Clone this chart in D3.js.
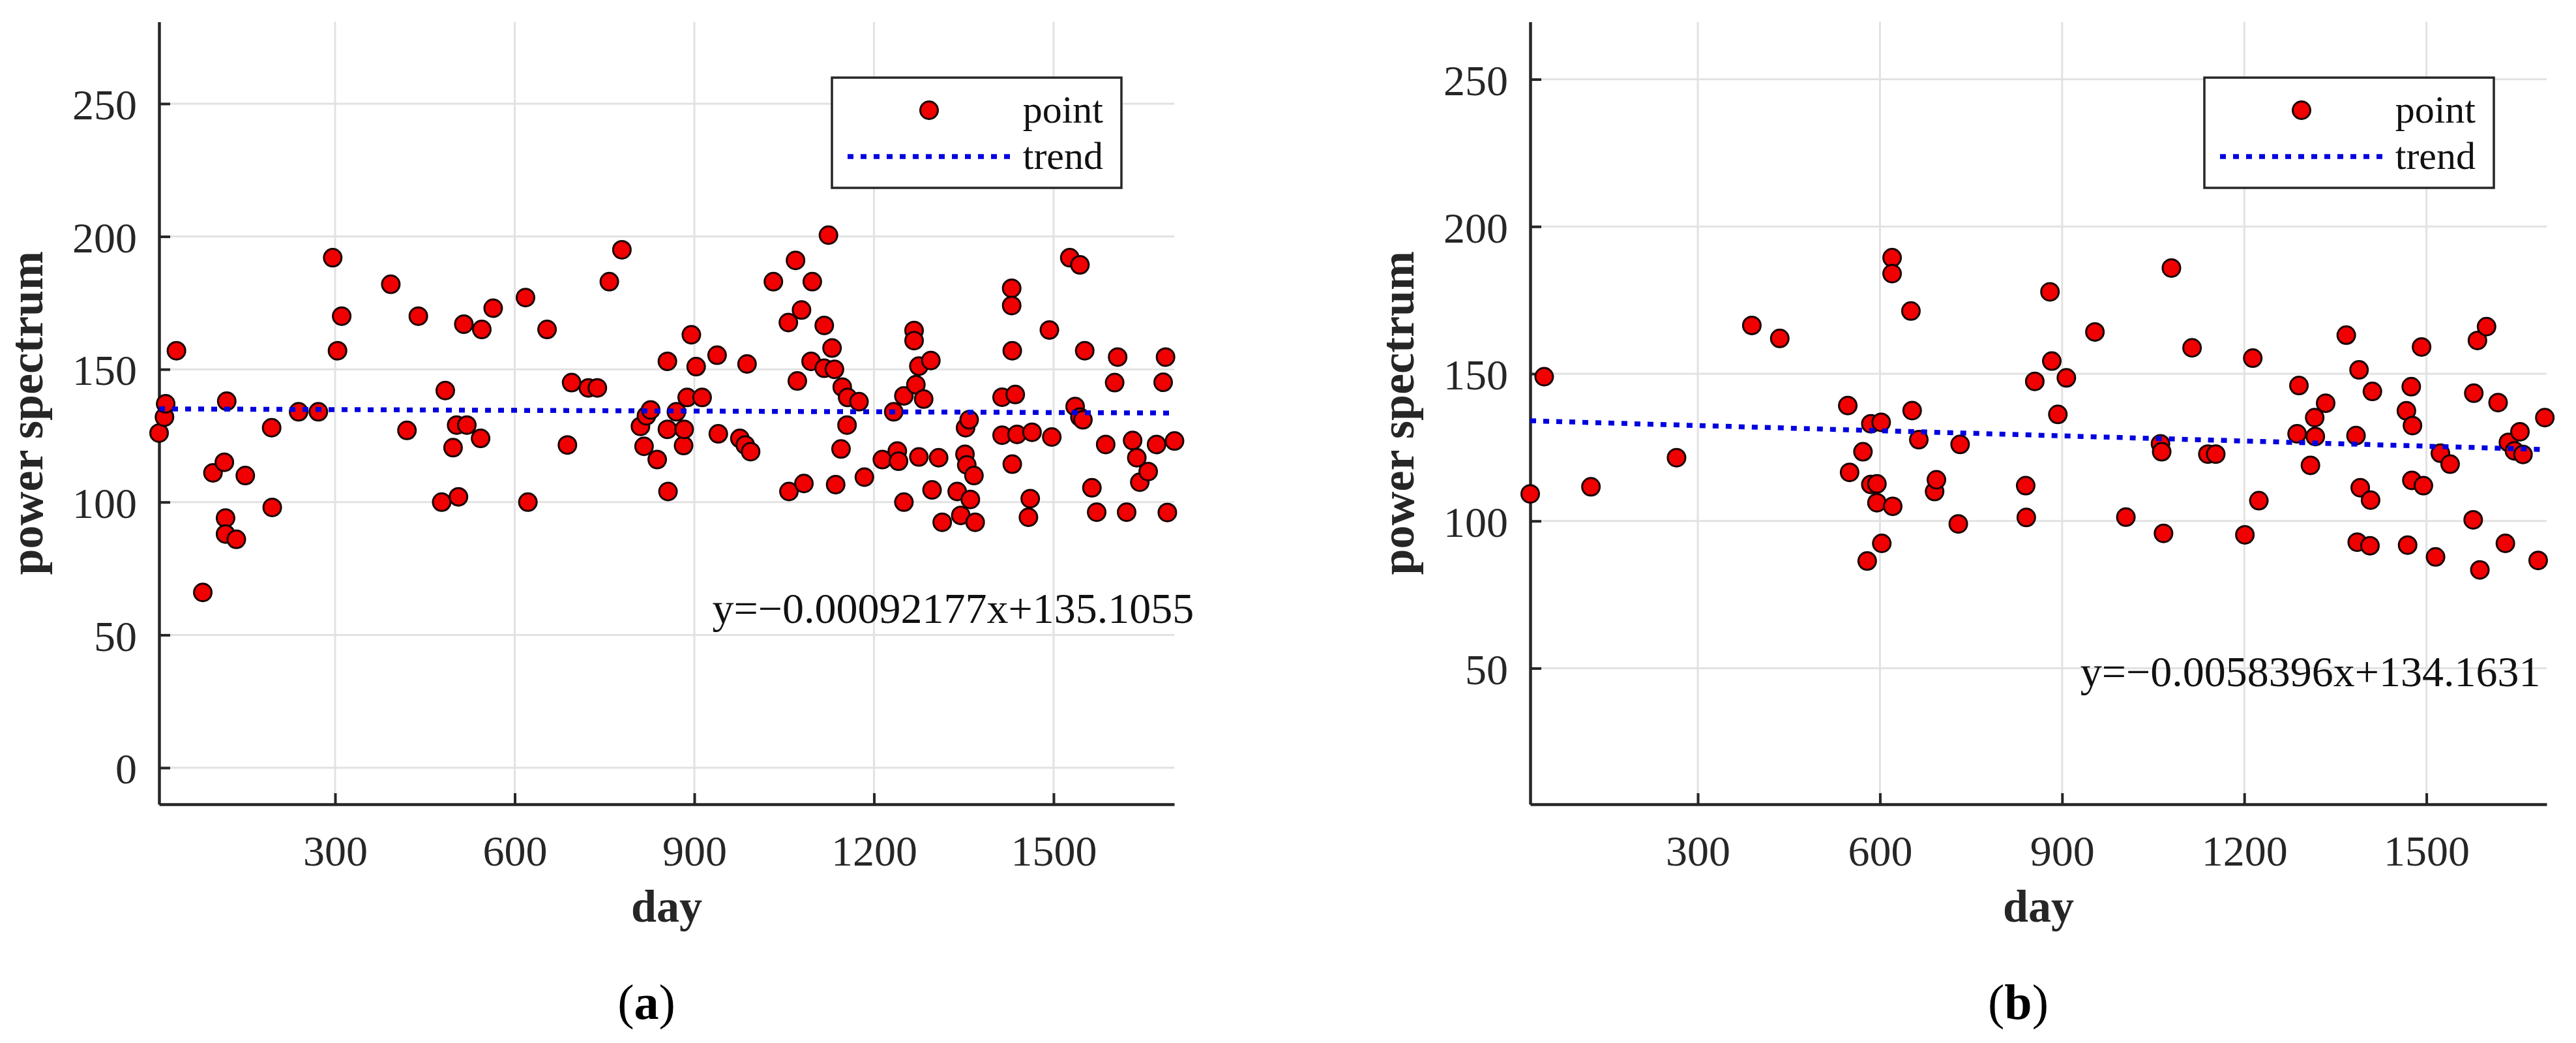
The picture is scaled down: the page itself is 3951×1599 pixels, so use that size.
<!doctype html>
<html lang="en">
<head>
<meta charset="utf-8">
<title>power spectrum vs day</title>
<script src="https://cdnjs.cloudflare.com/ajax/libs/d3/7.8.5/d3.min.js"></script>
<style>
	body { margin: 0; background: #fff; }
	svg { display: block; }
	text { font-family: "Liberation Serif", "Times New Roman", serif; }
	.grid line { stroke: #e2e2e2; stroke-width: 3; }
	.axis path.domain { stroke: #262626; stroke-width: 4.5; }
	.axis .tick line { stroke: #262626; stroke-width: 4; }
	.axis .tick text { font-size: 66px; fill: #262626; }
</style>
</head>
<body>
<div id="viz"></div>
<script>

// DATA
// panel (a)
var dayA = [6,15,17,35,79,96,115,117,117,119,135,150,194,195,239,272,296,304,311,393,
	420,439,478,484,497,503,506,515,520,543,545,564,618,622,654,688,695,723,738,758,
	779,810,816,820,827,838,855,855,856,870,882,883,888,895,903,913,938,940,976,985,
	994,988,1032,1057,1058,1069,1072,1079,1083,1095,1097,1117,1117,1124,1130,1134,1136,1145,1147,1155,
	1156,1175,1184,1214,1233,1239,1241,1250,1250,1267,1267,1270,1275,1275,1283,1295,1297,1308,1314,1339,
	1345,1352,1353,1355,1359,1361,1367,1369,1414,1414,1430,1430,1431,1431,1436,1439,1458,1461,1464,1493,
	1497,1527,1536,1544,1544,1549,1552,1564,1572,1587,1602,1607,1622,1632,1639,1644,1658,1672,1683,1687,
	1690,1702];
var powerA = [126,132,137,157,66,111,115,94,88,138,86,110,128,98,134,134,192,157,170,182,
	127,170,100,142,120.5,129,102,167,129,124,165,173,177,100,165,121.5,145,143,143,183,
	195,128.5,121,132.5,134.7,116,153,127.4,104,134,121.3,127.4,139.4,163,151,139.4,155.3,125.7,124,121.5,
	119,152,183,167.6,104,191,145.6,172.3,107,153,183,166.5,150.4,200.5,158,150,106.6,120,143.3,129,
	139.4,137.8,109.4,116,134,119.2,115.4,140,100,164.6,160.8,144.2,151.2,117,138.8,153.3,104.6,116.7,92.4,104,
	95,118,128,114,131,101,110,92.4,139.5,125.2,180.5,174,157,114.3,140.5,125.5,94.3,101.3,126.3,164.8,
	124.5,192,136,189.3,132,131,157,105.4,96.2,121.7,145,154.6,96.2,123.2,116.7,107.5,111.5,121.7,145.1,154.6,
	96.1,123];

// panel (b)
var dayB = [24,47,124,265,389,435,547,550,572,579,585,585,595,595,602,603,620,620,621,651,
	653,664,690,693,729,732,840,841,855,880,883,893,907,954,1005,1062,1064,1067,1080,1114,
	1140,1153,1201,1214,1224,1287,1290,1309,1316,1317,1334,1368,1384,1386,1389,1391,1407,1408,1411,1467,
	1469,1475,1476,1477,1492,1495,1515,1523,1539,1577,1578,1584,1588,1599,1618,1630,1635,1645,1654,1659,
	1684,1695];
var powerB = [109.2,149,111.6,121.5,166.4,162,139.2,116.5,123.5,86.4,133,112.4,112.6,106.2,133.5,92.4,189.4,184,105,171.3,
	137.5,127.6,110,114,99,126,112,101.2,147.4,177.8,154.3,136.2,148.6,164.2,101.3,126.2,123.5,95.8,185.9,158.8,
	122.7,122.7,95.3,155.3,106.9,129.6,146,118.9,135.1,128.7,140,163.1,129,92.8,151.3,111.3,91.6,107.1,144,137.4,
	91.8,145.6,113.8,132.4,159.1,112,87.8,123,119.3,100.4,143.4,161.3,83.4,166,140.2,92.4,126.7,123.8,130.3,122.6,
	86.6,135.1];

// fitted trends, as printed on the figure
var slopeA = -0.00092177, interceptA = 135.1055;
var slopeB = -0.0058396, interceptB = 134.1631;
var equationA = "y=\u22120.00092177x+135.1055";
var equationB = "y=\u22120.0058396x+134.1631";

// ticks
var xTicks = [300, 600, 900, 1200, 1500];
var yTicksA = [0, 50, 100, 150, 200, 250];
var yTicksB = [50, 100, 150, 200, 250];

var legendLabels = ["point", "trend"];
var xLabel = "day", yLabel = "power spectrum";


(function(d3) {

	var W = 3951, H = 1599;
	var top = 33.5, bottom = 1233;

	var panels = [
		{ days: dayA, power: powerA, xDomain: [6, 1701.5], yDomain: [-13.75, 280.8],
		  left: 244, right: 1801, yTicks: yTicksA, slope: slopeA, intercept: interceptA,
		  eq: equationA, eqAt: [930, 54.5], tag: "a" },
		{ days: dayB, power: powerB, xDomain: [24, 1698], yDomain: [3.8, 269.5],
		  left: 2347, right: 3906, yTicks: yTicksB, slope: slopeB, intercept: interceptB,
		  eq: equationB, eqAt: [930, 44], tag: "b" }
	];

	var svg = d3.select("#viz")
		.append("svg")
		.attr("width", W)
		.attr("height", H)
		.attr("viewBox", "0 0 " + W + " " + H);

	svg.append("rect").attr("width", W).attr("height", H).attr("fill", "#fff");

	panels.forEach(function(p) {

		// SCALES
		var x = d3.scaleLinear().domain(p.xDomain).range([p.left, p.right]);
		var y = d3.scaleLinear().domain(p.yDomain).range([bottom, top]);

		var g = svg.append("g");

		// GRID
		var grid = g.append("g").attr("class", "grid");
		grid.selectAll("line.v")
			.data(xTicks)
			.enter()
			.append("line")
			.attr("x1", function(d) { return x(d); })
			.attr("x2", function(d) { return x(d); })
			.attr("y1", top)
			.attr("y2", bottom);
		grid.selectAll("line.h")
			.data(p.yTicks)
			.enter()
			.append("line")
			.attr("x1", p.left)
			.attr("x2", p.right)
			.attr("y1", function(d) { return y(d); })
			.attr("y2", function(d) { return y(d); });

		// AXES (ticks point inward)
		var xAxis = d3.axisBottom(x).tickValues(xTicks).tickFormat(d3.format("d"))
			.tickSizeInner(-17).tickSizeOuter(0).tickPadding(0);
		var yAxis = d3.axisLeft(y).tickValues(p.yTicks).tickFormat(d3.format("d"))
			.tickSizeInner(-17).tickSizeOuter(0).tickPadding(34);

		var gx = g.append("g")
			.attr("class", "axis")
			.attr("transform", "translate(0," + bottom + ")")
			.call(xAxis);
		gx.selectAll(".tick text").attr("y", 94).attr("dy", null);

		var gy = g.append("g")
			.attr("class", "axis")
			.attr("transform", "translate(" + p.left + ",0)")
			.call(yAxis);
		gy.selectAll(".tick text").attr("dy", "0.36em");
		gx.attr("font-family", null).attr("font-size", null);
		gy.attr("font-family", null).attr("font-size", null);

		// axis titles
		g.append("text")
			.attr("x", (p.left + p.right) / 2)
			.attr("y", 1413)
			.attr("text-anchor", "middle")
			.style("font-size", "70px")
			.style("font-weight", "bold")
			.style("fill", "#262626")
			.text(xLabel);

		g.append("text")
			.attr("transform", "translate(" + (p.left - 179) + "," + ((top + bottom) / 2) + ") rotate(-90)")
			.attr("text-anchor", "middle")
			.style("font-size", "72px")
			.style("font-weight", "bold")
			.style("fill", "#262626")
			.text(yLabel);

		// POINTS
		g.append("g")
			.selectAll("circle")
			.data(p.days)
			.enter()
			.append("circle")
			.attr("cx", function(d) { return x(d); })
			.attr("cy", function(d, i) { return y(p.power[i]); })
			.attr("r", 13.5)
			.style("fill", "#f00000")
			.style("stroke", "#1a0000")
			.style("stroke-width", 3);

		// TREND
		g.append("line")
			.attr("x1", x(p.xDomain[0]))
			.attr("y1", y(p.slope * p.xDomain[0] + p.intercept))
			.attr("x2", x(p.xDomain[1]))
			.attr("y2", y(p.slope * p.xDomain[1] + p.intercept))
			.style("stroke", "#0000e0")
			.style("stroke-width", 7.5)
			.style("stroke-dasharray", "9,11");

		// equation
		g.append("text")
			.attr("x", x(p.eqAt[0]))
			.attr("y", y(p.eqAt[1]))
			.style("font-size", "66px")
			.style("fill", "#111")
			.text(p.eq);

		// LEGEND
		var lx = p.right - 525, ly = 119;
		var leg = g.append("g").attr("transform", "translate(" + lx + "," + ly + ")");
		leg.append("rect")
			.attr("width", 444)
			.attr("height", 169)
			.style("fill", "#fff")
			.style("stroke", "#262626")
			.style("stroke-width", 3.5);
		leg.append("circle")
			.attr("cx", 149)
			.attr("cy", 50)
			.attr("r", 13.5)
			.style("fill", "#f00000")
			.style("stroke", "#1a0000")
			.style("stroke-width", 3);
		leg.append("line")
			.attr("x1", 24).attr("x2", 275)
			.attr("y1", 121).attr("y2", 121)
			.style("stroke", "#0000e0")
			.style("stroke-width", 7.5)
			.style("stroke-dasharray", "9,11");
		leg.selectAll("text.lab")
			.data(legendLabels)
			.enter()
			.append("text")
			.attr("x", 416)
			.attr("y", function(d, i) { return i === 0 ? 68.5 : 140; })
			.attr("text-anchor", "end")
			.style("font-size", "60px")
			.style("fill", "#111")
			.text(function(d) { return d; });

		// panel tag, e.g. (a)
		var tag = g.append("text")
			.attr("x", (p.left + p.right) / 2 - 31)
			.attr("y", 1562)
			.attr("text-anchor", "middle")
			.style("font-size", "76px")
			.style("fill", "#000");
		tag.append("tspan").text("(");
		tag.append("tspan").style("font-weight", "bold").text(p.tag);
		tag.append("tspan").text(")");
	});

})(d3);

</script>
</body>
</html>
